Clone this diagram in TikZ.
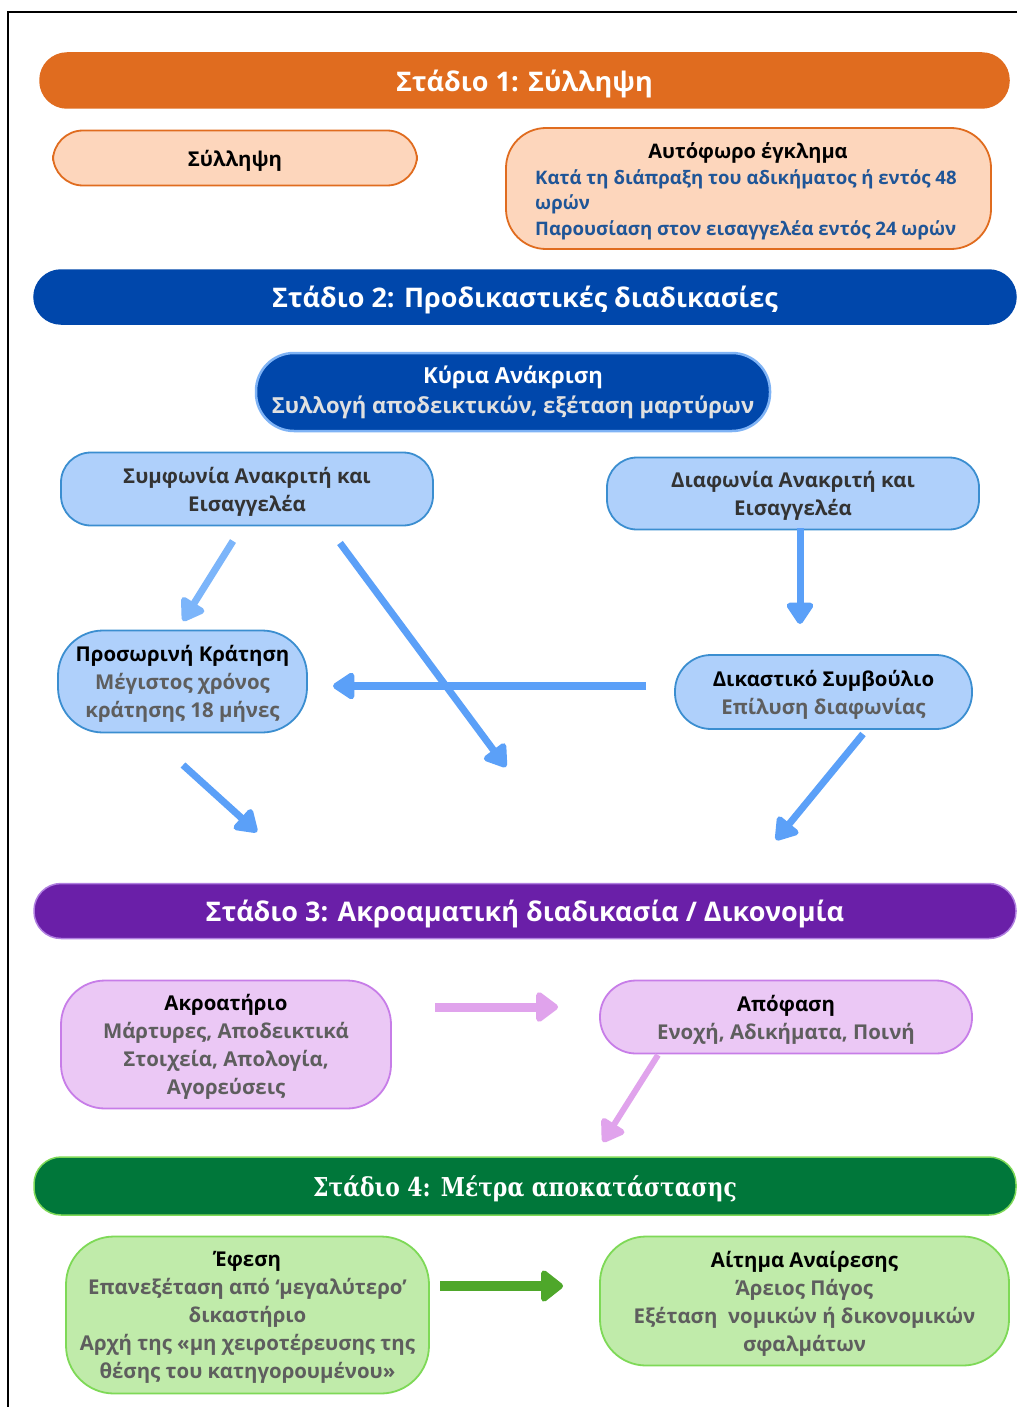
\documentclass[tikz,border=0pt]{standalone}
\usepackage{fontspec}
\setmainfont{Open Sans}
\newfontfamily\serifT{DejaVu Serif}[FakeStretch=0.84]
\usetikzlibrary{arrows.meta}
\definecolor{orangeC}{HTML}{E06C1F}
\definecolor{peach}{HTML}{FDD6BC}
\definecolor{blueBar}{HTML}{0047AB}
\definecolor{blueMid}{HTML}{7FB3F5}
\definecolor{lightBlue}{HTML}{AFD0FB}
\definecolor{blueBorder}{HTML}{3B8ED0}
\definecolor{arrBlue}{HTML}{5BA0F8}
\definecolor{arrBlueL}{HTML}{7CB5FA}
\definecolor{textBlue}{HTML}{1F5597}
\definecolor{grayT}{HTML}{5E5E5E}
\definecolor{darkT}{HTML}{333333}
\definecolor{purpleBar}{HTML}{6A1FA8}
\definecolor{purpleBorder}{HTML}{B07FE0}
\definecolor{lavender}{HTML}{EBC8F5}
\definecolor{lavBorder}{HTML}{C77DE8}
\definecolor{pinkArr}{HTML}{E0A3EC}
\definecolor{greenBar}{HTML}{00773A}
\definecolor{greenBorder}{HTML}{7ED957}
\definecolor{lightGreen}{HTML}{C0EBAA}
\definecolor{greenArr}{HTML}{4EA72A}
\tikzset{
  bar/.style={rectangle, rounded corners=27pt, line width=1.5pt, text=white,
    font=\bfseries\fontsize{27}{30}\selectfont, inner sep=0pt, text depth=0pt},
  boxbase/.style={rectangle, rounded corners=30pt, line width=1.8pt, inner sep=0pt,
    align=center, font=\bfseries\fontsize{20.4}{28}\selectfont},
  box/.style={boxbase, text depth=0pt},
  arr/.style={line width=7pt, -{Triangle[width=30pt,length=24pt,round]}},
}
\begin{document}
\begin{tikzpicture}[x=1pt,y=-1pt]
\useasboundingbox (0,0) rectangle (1017,1407);
\fill[white] (0,0) rectangle (1017,1407);
\draw[line width=1.5pt] (1017,12) -- (8,12) -- (8,1407);

% Stage 1
\node[bar, fill=orangeC, draw=orangeC, minimum width=969pt, minimum height=55pt] (s1) at (524.5,80.5) {Στάδιο 1: Σύλληψη};
\node[box, fill=peach, draw=orangeC, minimum width=364pt, minimum height=55pt] (syl) at (235,158) {Σύλληψη};
\node[boxbase, fill=peach, draw=orangeC, minimum width=485pt, minimum height=121pt, rounded corners=40pt] (aut) at (748.5,188.5) {};
\node[font=\bfseries\fontsize{20}{28}\selectfont, text=black] (autT) at (748,153) {Αυτόφωρο έγκλημα};
\node[anchor=north west, align=left, text=textBlue, inner sep=0pt, font=\bfseries\fontsize{18.6}{25.5}\selectfont] (autB) at (535,169) {Κατά τη διάπραξη του αδικήματος ή εντός 48\\ωρών\\Παρουσίαση στον εισαγγελέα εντός 24 ωρών};

% Stage 2
\node[bar, fill=blueBar, draw=blueBar, minimum width=982pt, minimum height=54pt] (s2) at (525,297) {Στάδιο 2: Προδικαστικές διαδικασίες};
\node[boxbase, fill=blueBar, draw=blueMid, line width=2.5pt, minimum width=514pt, minimum height=78pt, rounded corners=38pt, font=\bfseries\fontsize{22.1}{30}\selectfont] (kyr) at (513,392) {\textcolor{white}{Κύρια Ανάκριση}\\\textcolor{white!88!black}{Συλλογή αποδεικτικών, εξέταση μαρτύρων}};
\node[box, fill=lightBlue, draw=blueBorder, minimum width=372pt, minimum height=73pt, text=darkT] (sym) at (247,489) {Συμφωνία Ανακριτή και\\Εισαγγελέα};
\node[box, fill=lightBlue, draw=blueBorder, minimum width=372pt, minimum height=72pt, text=darkT] (dia) at (793,493.5) {Διαφωνία Ανακριτή και\\Εισαγγελέα};
\node[box, fill=lightBlue, draw=blueBorder, minimum width=249pt, minimum height=102pt, rounded corners=45pt] (pro) at (182.5,681.5) {\textcolor{black}{Προσωρινή Κράτηση}\\\textcolor{grayT}{Μέγιστος χρόνος}\\\textcolor{grayT}{κράτησης 18 μήνες}};
\node[box, fill=lightBlue, draw=blueBorder, minimum width=297pt, minimum height=74pt, rounded corners=36pt] (dik) at (823.5,692) {\textcolor{black}{Δικαστικό Συμβούλιο}\\\textcolor{grayT}{Επίλυση διαφωνίας}};

\coordinate (a1s) at (233,541); \coordinate (a1e) at (183,621);
\coordinate (a2s) at (340,543); \coordinate (a2e) at (506,767);
\coordinate (a3s) at (800,528); \coordinate (a3e) at (800,624);
\coordinate (a4s) at (646,686); \coordinate (a4e) at (333,686);
\coordinate (a5s) at (183,765); \coordinate (a5e) at (257,832);
\coordinate (a6s) at (863,734); \coordinate (a6e) at (776,840);
\draw[arr, arrBlueL] (a1s) -- (a1e);
\draw[arr, arrBlue, line width=8pt] (a4s) -- (a4e);
\draw[arr, arrBlue] (a2s) -- (a2e);
\draw[arr, arrBlue] (a3s) -- (a3e);
\draw[arr, arrBlue] (a5s) -- (a5e);
\draw[arr, arrBlue] (a6s) -- (a6e);

% Stage 3
\node[bar, fill=purpleBar, draw=purpleBorder, minimum width=982pt, minimum height=55pt] (s3) at (525,911) {Στάδιο 3: Ακροαματική διαδικασία / Δικονομία};
\node[box, fill=lavender, draw=lavBorder, minimum width=330pt, minimum height=128pt, rounded corners=44pt] (akr) at (226,1044.5) {\textcolor{black}{Ακροατήριο}\\\textcolor{grayT}{Μάρτυρες, Αποδεικτικά}\\\textcolor{grayT}{Στοιχεία, Απολογία,}\\\textcolor{grayT}{Αγορεύσεις}};
\node[box, fill=lavender, draw=lavBorder, minimum width=372pt, minimum height=73pt, rounded corners=36pt] (apo) at (786,1017) {\textcolor{black}{Απόφαση}\\\textcolor{grayT}{Ενοχή, Αδικήματα, Ποινή}};
\coordinate (p1s) at (435,1007); \coordinate (p1e) at (558,1007);
\coordinate (p2s) at (658,1055); \coordinate (p2e) at (603,1142);
\draw[arr, pinkArr, line width=9pt, -{Triangle[width=34pt,length=24pt,round]}] (p1s) -- (p1e);
\draw[arr, pinkArr, line width=6pt] (p2s) -- (p2e);

% Stage 4
\node[bar, fill=greenBar, draw=greenBorder, minimum width=982pt, minimum height=58pt, font=\serifT\bfseries\fontsize{26}{30}\selectfont] (s4) at (525,1186) {Στάδιο 4: Μέτρα αποκατάστασης};
\node[box, fill=lightGreen, draw=greenBorder, minimum width=363pt, minimum height=157pt, rounded corners=48pt] (efe) at (247.5,1315) {\textcolor{black}{Έφεση}\\\textcolor{grayT}{Επανεξέταση από ‘μεγαλύτερο’}\\\textcolor{grayT}{δικαστήριο}\\\textcolor{grayT}{Αρχή της «μη χειροτέρευσης της}\\\textcolor{grayT}{θέσης του κατηγορουμένου»}};
\node[box, fill=lightGreen, draw=greenBorder, minimum width=409pt, minimum height=129pt, rounded corners=46pt] (ait) at (804.5,1301) {\textcolor{black}{Αίτημα Αναίρεσης}\\\textcolor{grayT}{Άρειος Πάγος}\\\textcolor{grayT}{Εξέταση\ \ νομικών ή δικονομικών}\\\textcolor{grayT}{σφαλμάτων}};
\coordinate (g1s) at (440,1286); \coordinate (g1e) at (563,1286);
\draw[arr, greenArr, line width=10pt, -{Triangle[width=36pt,length=24pt,round]}] (g1s) -- (g1e);
\end{tikzpicture}
\end{document}
